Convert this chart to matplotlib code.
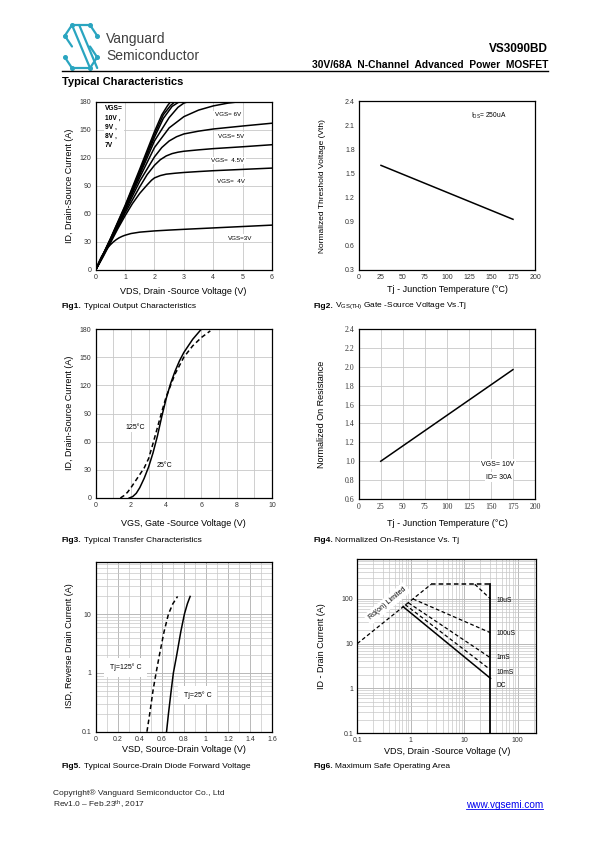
import matplotlib.pyplot as plt
from matplotlib.ticker import NullFormatter, MultipleLocator

plt.rcParams['font.family'] = ['Liberation Sans', 'DejaVu Sans']
plt.rcParams['mathtext.fontset'] = 'custom'
plt.rcParams['mathtext.rm'] = 'Liberation Sans'
plt.rcParams['mathtext.it'] = 'Liberation Sans:italic'
plt.rcParams['mathtext.bf'] = 'Liberation Sans:bold'

# ---------------- data ----------------
# Fig1 output characteristics: VDS (V) / ID (A) for each VGS
vds_3v = [0, 0.05, 0.1, 0.2, 0.3, 0.4, 0.5, 0.6, 0.7, 0.8, 0.9, 1.0, 1.2, 1.5, 2, 2.5, 3, 4, 5, 6]
id_3v = [0, 4, 8, 14.5, 19.5, 23.5, 27, 30, 32.5, 34.5, 36, 37.2, 39, 40.5, 41.8, 42.7, 43.5, 45, 46.5, 48]
vds_4v = [0, 0.25, 0.5, 0.75, 1, 1.25, 1.5, 1.75, 1.9, 2, 2.2, 2.4, 2.7, 3, 3.5, 4, 5, 6]
id_4v = [0, 14, 29, 44, 58, 71, 82, 91, 96, 98.5, 101, 102.5, 103.5, 104.3, 105.3, 106.2, 107.6, 109]
vds_45v = [0, 0.5, 1, 1.5, 1.75, 2, 2.2, 2.4, 2.6, 2.8, 3, 3.5, 4, 5, 6]
id_45v = [0, 30, 61, 89, 102, 112, 118, 122, 124.5, 126, 127, 128.5, 129.8, 131.8, 134]
vds_5v = [0, 0.5, 1, 1.5, 2, 2.25, 2.5, 2.75, 3, 3.5, 4, 5, 6]
id_5v = [0, 31, 63, 95, 121, 131, 138, 142.5, 145.5, 148.5, 150.8, 154, 157]
vds_6v = [0, 0.5, 1, 1.5, 2, 2.5, 3, 3.5, 4, 4.5, 4.9]
id_6v = [0, 31.5, 65, 99, 131, 152, 164, 171, 175.5, 178.5, 180]
vds_7v = [0, 0.5, 1, 1.5, 2, 2.5, 2.8, 3.0, 3.15]
id_7v = [0, 32, 66, 102, 138, 163, 174, 178.5, 180]
vds_8v = [0, 0.5, 1, 1.5, 2, 2.3, 2.6, 2.85]
id_8v = [0, 32.5, 67, 104, 142, 162, 175, 180]
vds_9v = [0, 0.5, 1, 1.5, 2, 2.3, 2.55, 2.7]
id_9v = [0, 33, 68, 106, 145, 166, 176, 180]
vds_10v = [0, 0.5, 1, 1.5, 2, 2.25, 2.45, 2.55]
id_10v = [0, 33.5, 69, 108, 148, 166, 176, 180]

# Fig2 threshold voltage vs Tj
tj_vth = [25, 175]
vth_norm = [1.6, 0.93]

# Fig3 transfer characteristics: VGS (V) / ID (A)
vgs_25c = [1.9, 2.1, 2.3, 2.5, 2.75, 3.0, 3.25, 3.5, 3.75, 4.0, 4.25, 4.5, 4.75, 5.0, 5.5, 6.0]
id_25c = [0, 1.5, 5, 11, 21, 33, 48, 66, 87, 106, 122, 135, 146, 155, 169, 180]
vgs_125c = [1.4, 1.6, 1.8, 2.0, 2.25, 2.5, 2.75, 3.0, 3.25, 3.5, 3.75, 4.0, 4.5, 5.0, 5.5, 6.0, 6.5]
id_125c = [0, 2.5, 6, 11, 18, 25, 32, 42, 58, 75, 92, 108, 132, 150, 162, 171, 178]

# Fig4 on-resistance vs Tj
tj_ron = [25, 175]
ron_norm = [1.0, 1.97]

# Fig5 body diode forward voltage: VSD (V) / ISD (A)
isd = [0.1, 0.2, 0.5, 1, 2, 5, 10, 15, 20]
vsd_25c = [0.643, 0.66, 0.685, 0.705, 0.735, 0.772, 0.805, 0.832, 0.857]
vsd_125c = [0.465, 0.49, 0.52, 0.548, 0.578, 0.62, 0.66, 0.70, 0.743]

# Fig6 safe operating area: VDS (V) / ID (A)
rds_vds, rds_id = [0.1, 2.4], [10, 212]
top_vds, top_id = [2.4, 31], [212, 212]
us10_vds, us10_id = [15.8, 31], [212, 100]
us100_vds, us100_id = [1.1, 31], [100, 17.5]
ms1_vds, ms1_id = [0.9, 31], [82, 4.8]
ms10_vds, ms10_id = [0.78, 31], [75, 2.6]
dc_vds, dc_id = [0.72, 31], [67, 1.67]
vmax_vds, vmax_id = [31, 31], [212, 0.1]

# ---------------- figure ----------------
fig = plt.figure(figsize=(5.95, 8.42), dpi=100)
ov = fig.add_axes([0, 0, 1, 1])
ov.set_xlim(0, 595)
ov.set_ylim(842, 0)
ov.axis('off')

GRID = '#c8c8c8'
TICK = '#333333'


def make_ax(x0, y0, x1, y1):
    ax = fig.add_axes([x0 / 595, 1 - y1 / 842, (x1 - x0) / 595, (y1 - y0) / 842])
    for s in ax.spines.values():
        s.set_color('black')
        s.set_linewidth(0.9)
    ax.tick_params(which='both', length=0, labelsize=5, labelcolor=TICK, pad=3)
    ax.set_axisbelow(True)
    return ax


def labels(ax, xl, xl_pos, yl, yl_pos, ysize=6.5):
    ax.set_xlabel(xl, fontsize=6.5, va='center')
    ax.xaxis.set_label_coords(*xl_pos, transform=ov.transData)
    ax.set_ylabel(yl, fontsize=ysize, va='center')
    ax.yaxis.set_label_coords(*yl_pos, transform=ov.transData)


def caption(x, y, num, rest):
    t = ov.text(x, y, num, fontsize=6, fontweight='bold', va='center')
    ov.annotate(rest, xy=(1, 0.5), xycoords=t, xytext=(1.5, 0), textcoords='offset points',
                fontsize=6, va='center')


# header logo (stylised S in a hexagon)
logo_c = '#2aa5c0'


def lp(u, v):
    return 63 + u * 36, 68 - v * 43


logo_paths = [
    [(0.05, 0.75), (0.25, 1.0), (0.75, 1.0), (0.95, 0.75)],
    [(0.05, 0.75), (0.25, 0.5)],
    [(0.25, 1.0), (0.75, 0.0)],
    [(0.45, 1.0), (0.95, 0.0)],
    [(0.05, 0.25), (0.25, 0.0), (0.75, 0.0), (0.95, 0.25)],
    [(0.95, 0.25), (0.75, 0.5)],
]
for path in logo_paths:
    xs, ys = zip(*[lp(u, v) for u, v in path])
    ov.plot(xs, ys, color=logo_c, lw=1.6, solid_capstyle='round')
for u, v in [(0.25, 1.0), (0.75, 1.0), (0.05, 0.75), (0.95, 0.75), (0.25, 0.0),
             (0.75, 0.0), (0.05, 0.25), (0.95, 0.25)]:
    px, py = lp(u, v)
    ov.plot(px, py, 'o', color=logo_c, ms=2.6)

ov.text(106, 39, 'Vanguard', fontsize=10, color='#404040', va='center')
ov.text(106, 56, 'Semiconductor', fontsize=10, color='#404040', va='center')
ov.text(548, 49, 'VS3090BD', fontsize=8.5, fontweight='bold', ha='right', va='center')
ov.text(548, 65, '30V/68A  N-Channel  Advanced  Power  MOSFET', fontsize=7.4, fontweight='bold',
        ha='right', va='center')
ov.plot([62, 548], [71, 71], color='black', lw=1)
ov.text(62, 82, 'Typical Characteristics', fontsize=8, fontweight='bold', va='center')

# ---- Fig1 ----
ax1 = make_ax(95.7, 101.7, 272, 270)
curves1 = [(vds_3v, id_3v), (vds_4v, id_4v), (vds_45v, id_45v), (vds_5v, id_5v), (vds_6v, id_6v),
           (vds_7v, id_7v), (vds_8v, id_8v), (vds_9v, id_9v), (vds_10v, id_10v)]
for xs, ys in curves1:
    ax1.plot(xs, ys, color='black', lw=1.1)
ax1.set_xlim(0, 6)
ax1.set_ylim(0, 180)
ax1.set_xticks(range(0, 7))
ax1.set_yticks(range(0, 181, 30))
ax1.grid(True, color=GRID, lw=0.6)
box = dict(facecolor='white', edgecolor='none', pad=1)
ax1.text(0.32, 176, 'VGS=\n10V ,\n9V ,\n8V ,\n7V', fontsize=4.8, fontweight='bold', va='top',
         linespacing=1.45, bbox=box)
ax1.text(4.5, 166, 'VGS= 6V', fontsize=4.5, ha='center', va='center', bbox=box)
ax1.text(4.6, 143, 'VGS= 5V', fontsize=4.5, ha='center', va='center', bbox=box)
ax1.text(4.5, 117, 'VGS=  4.5V', fontsize=4.5, ha='center', va='center', bbox=box)
ax1.text(4.6, 95, 'VGS=  4V', fontsize=4.5, ha='center', va='center', bbox=box)
ax1.text(4.9, 34, 'VGS=3V', fontsize=4.5, ha='center', va='center', bbox=box)
labels(ax1, 'VDS, Drain -Source Voltage (V)', (183.5, 291), 'ID, Drain-Source Current (A)', (70, 186))
caption(62, 306, 'Fig1.', 'Typical Output Characteristics')

# ---- Fig2 ----
ax2 = make_ax(359, 101, 535, 270)
ax2.plot(tj_vth, vth_norm, color='black', lw=1.1)
ax2.set_xlim(0, 200)
ax2.set_ylim(0.3, 2.4)
ax2.set_xticks(range(0, 201, 25))
ax2.set_yticks([0.3, 0.6, 0.9, 1.2, 1.5, 1.8, 2.1, 2.4])
ax2.yaxis.set_major_formatter(plt.FormatStrFormatter('%.1f'))
ax2.text(147, 2.22, r'I$_{\rm DS}$= 250uA', fontsize=4.8, ha='center', va='center')
labels(ax2, 'Tj - Junction Temperature (°C)', (447, 290), 'Normalized Threshold Voltage (Vth)',
       (322, 186), ysize=6)
caption(313, 306, 'Fig2.', r'V$_{\rm GS(TH)}$ Gate -Source Voltage Vs.Tj')

# ---- Fig3 ----
ax3 = make_ax(95.7, 329, 272, 498)
ax3.plot(vgs_25c, id_25c, color='black', lw=1.1)
ax3.plot(vgs_125c, id_125c, color='black', lw=1.1, ls=(0, (3, 2)))
ax3.set_xlim(0, 10)
ax3.set_ylim(0, 180)
ax3.set_xticks(range(0, 11, 2))
ax3.xaxis.set_minor_locator(MultipleLocator(1))
ax3.set_yticks(range(0, 181, 30))
ax3.grid(True, which='both', color=GRID, lw=0.6)
ax3.text(2.25, 75, '125°C', fontsize=5, ha='center', va='center', bbox=box)
ax3.text(3.9, 35, '25°C', fontsize=5, ha='center', va='center', bbox=box)
labels(ax3, 'VGS, Gate -Source Voltage (V)', (183.5, 524), 'ID, Drain-Source Current (A)', (70, 413))
caption(62, 541, 'Fig3.', 'Typical Transfer Characteristics')

# ---- Fig4 ----
ax4 = make_ax(358.7, 329, 535, 499)
ax4.plot(tj_ron, ron_norm, color='black', lw=1.1)
ax4.set_xlim(0, 200)
ax4.set_ylim(0.6, 2.4)
ax4.set_xticks(range(0, 201, 25))
ax4.set_yticks([0.6, 0.8, 1.0, 1.2, 1.4, 1.6, 1.8, 2.0, 2.2, 2.4])
ax4.yaxis.set_major_formatter(plt.FormatStrFormatter('%.1f'))
ax4.tick_params(labelsize=5.6, labelfontfamily='Liberation Serif')
ax4.grid(True, color=GRID, lw=0.6)
ax4.text(158, 0.97, 'VGS= 10V', fontsize=5, ha='center', va='center', bbox=box)
ax4.text(159, 0.83, 'ID= 30A', fontsize=5, ha='center', va='center', bbox=box)
labels(ax4, 'Tj - Junction Temperature (°C)', (447, 524), 'Normalized On Resistance', (322, 414))
caption(313, 541, 'Fig4.', 'Normalized On-Resistance Vs. Tj')

# ---- Fig5 ----
ax5 = make_ax(95.7, 561.7, 272, 731.7)
ax5.plot(vsd_25c, isd, color='black', lw=1.1)
ax5.plot(vsd_125c, isd, color='black', lw=1.1, ls=(0, (3, 2)))
ax5.set_yscale('log')
ax5.set_xlim(0, 1.6)
ax5.set_ylim(0.1, 78)
ax5.set_xticks([0, 0.2, 0.4, 0.6, 0.8, 1.0, 1.2, 1.4, 1.6])
ax5.xaxis.set_major_formatter(plt.FormatStrFormatter('%g'))
ax5.xaxis.set_minor_locator(MultipleLocator(0.1))
ax5.set_yticks([0.1, 1, 10], ['0.1', '1', '10'])
ax5.yaxis.set_minor_formatter(NullFormatter())
ax5.grid(True, which='major', color='#b8b8b8', lw=0.7)
ax5.grid(True, which='minor', color=GRID, lw=0.5)
ax5.text(0.27, 1.24, 'Tj=125° C', fontsize=5, ha='center', va='center',
         bbox=dict(facecolor='white', edgecolor='none', pad=4))
ax5.text(0.8, 0.42, 'Tj=25° C', fontsize=5, ha='left', va='center',
         bbox=dict(facecolor='white', edgecolor='none', pad=4))
labels(ax5, 'VSD, Source-Drain Voltage (V)', (183.5, 749), 'ISD, Reverse Drain Current (A)', (70, 646))
caption(62, 767, 'Fig5.', 'Typical Source-Drain Diode Forward Voltage')

# ---- Fig6 ----
ax6 = make_ax(357.3, 559.3, 536, 733)
dash = (0, (3, 2))
ax6.plot(rds_vds, rds_id, color='black', lw=0.9, ls=dash)
ax6.plot(top_vds, top_id, color='black', lw=1.1, ls=dash)
ax6.plot(us10_vds, us10_id, color='black', lw=0.9, ls=dash)
ax6.plot(us100_vds, us100_id, color='black', lw=0.9, ls=dash)
ax6.plot(ms1_vds, ms1_id, color='black', lw=0.9, ls=dash)
ax6.plot(ms10_vds, ms10_id, color='black', lw=0.9, ls=dash)
ax6.plot(dc_vds, dc_id, color='black', lw=1.1)
ax6.plot(vmax_vds, vmax_id, color='black', lw=1.3)
ax6.set_xscale('log')
ax6.set_yscale('log')
ax6.set_xlim(0.1, 220)
ax6.set_ylim(0.1, 770)
ax6.set_xticks([0.1, 1, 10, 100], ['0.1', '1', '10', '100'])
ax6.set_yticks([0.1, 1, 10, 100], ['0.1', '1', '10', '100'])
ax6.xaxis.set_minor_formatter(NullFormatter())
ax6.yaxis.set_minor_formatter(NullFormatter())
ax6.grid(True, which='major', color='#b8b8b8', lw=0.7)
ax6.grid(True, which='minor', color=GRID, lw=0.5)
for txt, yv in [('10uS', 90), ('100uS', 16.5), ('1mS', 4.8), ('10mS', 2.3), ('DC', 1.15)]:
    ax6.text(40, yv, txt, fontsize=4.8, ha='left', va='center')
ax6.text(0.36, 78, 'Rd(on) Limited', fontsize=5, rotation=40, ha='center', va='center',
         bbox=dict(facecolor='white', edgecolor='none', pad=2))
labels(ax6, 'VDS, Drain -Source Voltage (V)', (447, 751), 'ID - Drain Current (A)', (322, 646))
caption(313, 767, 'Fig6.', 'Maximum Safe Operating Area')

# footer
ov.text(53, 793, 'Copyright® Vanguard Semiconductor Co., Ltd', fontsize=6, color='#222222', va='center')
ov.text(53, 805, r'Rev1.0 – Feb.23$^{\rm th}$, 2017', fontsize=6, color='#222222', va='center')
url = ov.text(543, 805, 'www.vgsemi.com', fontsize=7.2, color='#0000ee', ha='right', va='center')
fig.canvas.draw()
bb = url.get_window_extent().transformed(ov.transData.inverted())
ov.plot([bb.x0, bb.x1], [max(bb.y0, bb.y1) - 1, max(bb.y0, bb.y1) - 1], color='#0000ee', lw=0.6)

fig.savefig('out.png', dpi=100)
